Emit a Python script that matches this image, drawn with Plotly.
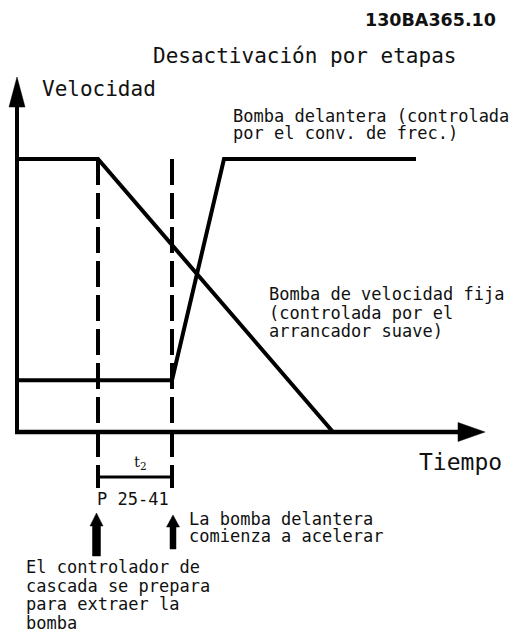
import plotly.graph_objects as go

# ---------------- data (schematic: time in arbitrary units, speed in %) ----------------
t_stage = 8.1          # P 25-41: cascade controller prepares to remove pump
t_lead_start = 15.5    # lead pump begins to accelerate
t_lead_full = 20.7     # lead pump reaches full speed
t_fixed_zero = 31.6    # fixed-speed pump reaches zero
t_end = 39.9           # end of drawn lead-pump line

speed_full = 100
speed_low = 19

fixed_t = [0, t_stage, t_fixed_zero]
fixed_v = [speed_full, speed_full, 0]
lead_t = [0, t_lead_start, t_lead_full, t_end]
lead_v = [speed_low, speed_low, speed_full, speed_full]

title_text = "Desactivación por etapas"
code_text = "130BA365.10"
y_label = "Velocidad"
x_label = "Tiempo"
lead_label = ["Bomba delantera (controlada", "por el conv. de frec.)"]
fixed_label = ["Bomba de velocidad fija", "(controlada por el", "arrancador suave)"]
param_label = "P 25-41"
accel_label = ["La bomba delantera", "comienza a acelerar"]
prep_label = ["El controlador de", "cascada se prepara", "para extraer la", "bomba"]

# ---------------- geometry ----------------
W, H = 513, 632
PX0, PY0 = 17, 432          # pixel position of the origin
SX, SY = 10.0, 2.73          # pixels per unit
x_range = [-PX0 / SX, (W - PX0) / SX]
y_range = [-(H - PY0) / SY, PY0 / SY]

def ty(py):   # pixel row -> data y
    return (PY0 - py) / SY

def tx(px):
    return (px - PX0) / SX

FONT = "DejaVu Sans Mono"
BLACK = "#000000"
TXT = "#111111"

fig = go.Figure()

def line(xs, ys, width=4, dash=None):
    fig.add_trace(go.Scatter(x=xs, y=ys, mode="lines", hoverinfo="skip",
                             line=dict(color=BLACK, width=width, dash=dash),
                             showlegend=False))

def poly(xs, ys):
    fig.add_trace(go.Scatter(x=xs + [xs[0]], y=ys + [ys[0]], mode="lines",
                             fill="toself", fillcolor=BLACK, hoverinfo="skip",
                             line=dict(color=BLACK, width=0.5), showlegend=False))

# axes with arrowheads
y_tip = ty(77)
y_head = 30 / SY
y_half = 8 / SX
line([0, 0], [0, y_tip - y_head + 1], width=4)
poly([-y_half, 0, y_half], [y_tip - y_head, y_tip, y_tip - y_head])

x_tip = tx(485)
x_head = 27 / SX
x_half = 9.5 / SY
line([tx(15), x_tip - x_head + 0.1], [0, 0], width=4.5)
poly([x_tip - x_head, x_tip, x_tip - x_head], [x_half, 0, -x_half])

# pump curves
line(fixed_t, fixed_v, width=4)
line(lead_t, lead_v, width=4)

# dashed markers
dash_bottom = ty(488)
for tt in (t_stage, t_lead_start):
    line([tt, tt], [speed_full, dash_bottom], width=4, dash="26px,8px")

# t2 bracket
yb = ty(477)
line([t_stage, t_lead_start], [yb, yb], width=3)
for tt in (t_stage, t_lead_start):
    line([tt, tt], [ty(468), ty(486)], width=3)

# bottom arrows
def up_arrow(xc, tip_py, base_py, bottom_py, shaft_half_px, head_half_px):
    sh, hh = shaft_half_px / SX, head_half_px / SX
    tip, base, bot = ty(tip_py), ty(base_py), ty(bottom_py)
    poly([xc - sh, xc - sh, xc - hh, xc, xc + hh, xc + sh, xc + sh],
         [bot, base, base, tip, base, base, bot])

up_arrow(t_stage - 0.15, 513, 526, 556, 4, 6.5)
up_arrow(t_lead_start + 0.1, 515, 527, 549, 3, 6.5)

# ---------------- text ----------------
ann = []

def txt(s, px, py, size=17, xanchor="left", bold=False, family=FONT):
    ann.append(dict(text=("<b>%s</b>" % s) if bold else s, x=px / W, y=1 - py / H,
                    xref="paper", yref="paper", xanchor=xanchor, yanchor="middle",
                    showarrow=False, font=dict(family=family, size=size, color=TXT)))

txt(code_text, 498, 20, size=17.5, xanchor="right", bold=True, family="DejaVu Sans")
txt(title_text, 304, 56, size=21, xanchor="center")
txt(y_label, 40, 89, size=21)
txt(x_label, 417, 462, size=23)
for i, s in enumerate(lead_label):
    txt(s, 231, 116 + 17 * i)
for i, s in enumerate(fixed_label):
    txt(s, 267, 294 + 18.5 * i)
txt("t<sub>2</sub>", 132, 462, size=15, family="DejaVu Serif")
txt(param_label, 95, 499)
for i, s in enumerate(accel_label):
    txt(s, 187, 519 + 17 * i)
for i, s in enumerate(prep_label):
    txt(s, 24, 567 + 18.7 * i)

fig.update_layout(
    width=W, height=H, autosize=False,
    margin=dict(l=0, r=0, t=0, b=0, pad=0),
    paper_bgcolor="white", plot_bgcolor="white",
    xaxis=dict(range=x_range, visible=False, fixedrange=True),
    yaxis=dict(range=y_range, visible=False, fixedrange=True),
    annotations=ann,
    showlegend=False,
)

fig.write_html("out.html", config={"displayModeBar": False},
               post_script="document.body.style.margin='0';")
